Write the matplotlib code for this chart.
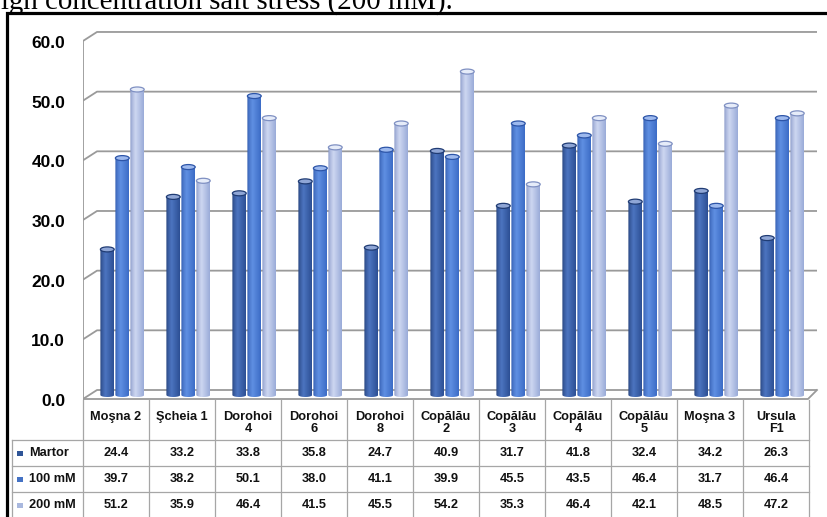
import numpy as np
import matplotlib
matplotlib.use("Agg")
import matplotlib.pyplot as plt
from matplotlib.patches import Ellipse, PathPatch
from matplotlib.path import Path
from matplotlib.colors import to_rgb

# ---------------- data ----------------
categories = ["Moşna 2", "Şcheia 1", "Dorohoi\n4", "Dorohoi\n6", "Dorohoi\n8",
              "Copălău\n2", "Copălău\n3", "Copălău\n4", "Copălău\n5", "Moşna 3", "Ursula\nF1"]
series_names = ["Martor", "100 mM", "200 mM"]
martor = [24.4, 33.2, 33.8, 35.8, 24.7, 40.9, 31.7, 41.8, 32.4, 34.2, 26.3]
mm100 = [39.7, 38.2, 50.1, 38.0, 41.1, 39.9, 45.5, 43.5, 46.4, 31.7, 46.4]
mm200 = [51.2, 35.9, 46.4, 41.5, 45.5, 54.2, 35.3, 46.4, 42.1, 48.5, 47.2]
y_ticks = [0, 10, 20, 30, 40, 50, 60]
caption = "igh concentration salt stress (200 mM)."

series = [martor, mm100, mm200]
# gradient colours (left edge, highlight, right edge) and legend colour
grads = [("#203c74", "#4c74c0", "#2c4f94"),
         ("#2d55a8", "#5f8fe2", "#3c6cc6"),
         ("#7f90c2", "#cdd7f1", "#9aabd8")]
legend_cols = ["#2f5597", "#4472c4", "#a9b8de"]
cap_cols = ["#8fa6d6", "#9db9ee", "#e6ecf9"]

W, H = 827, 517
fig = plt.figure(figsize=(W / 100, H / 100), dpi=100)
fig.patch.set_facecolor("white")

# geometry in pixels
col_w = 66.0
x_left = 83.0
ppu = 5.967           # pixels per value unit
base_pix = 395.0      # pixel row of value 0 for bars
ax_top, ax_bot, ax_right = 30.0, 400.0, 822.0

ax = fig.add_axes([x_left / W, 1 - ax_bot / H, (ax_right - x_left) / W, (ax_bot - ax_top) / H])
ax.set_xlim(0, (ax_right - x_left) / col_w)
ax.set_ylim(-(ax_bot - base_pix) / ppu, (base_pix - ax_top) / ppu)
ax.axis("off")

back_off = 5.0 / ppu
front_off = -4.0 / ppu
depth_x = 14.0 / col_w
x_back_end = (817 - x_left) / col_w
x_front_end = (808 - x_left) / col_w
grid_c = "#9a9a9a"

# gridlines (3D back wall)
for g in y_ticks:
    ax.plot([0, depth_x, x_back_end], [g + front_off, g + back_off, g + back_off],
            color=grid_c, lw=1.3, zorder=1, solid_capstyle="butt")
# floor
ax.plot([x_back_end, x_front_end, 0], [back_off, front_off, front_off], color=grid_c, lw=1.3, zorder=1)
ax.plot([0, 0], [ax.get_ylim()[0], y_ticks[-1] + front_off], color=grid_c, lw=1.3, zorder=1)

# bars as cylinders
bw = 13.8 / col_w
offs = [24.3 / col_w, 39.3 / col_w, 54.3 / col_w]
cap_h = 5.0 / ppu
bot_h = 4.0 / ppu
t = np.linspace(0, 1, 64)

def make_grad(c_l, c_m, c_r):
    l, m, r = np.array(to_rgb(c_l)), np.array(to_rgb(c_m)), np.array(to_rgb(c_r))
    out = np.zeros((1, len(t), 3))
    for i, tt in enumerate(t):
        if tt < 0.4:
            f = tt / 0.4
            out[0, i] = l + (m - l) * (f ** 0.6)
        else:
            f = (tt - 0.4) / 0.6
            out[0, i] = m + (r - m) * f
    return out

imgs = [make_grad(*g) for g in grads]

for si, vals in enumerate(series):
    for ci, v in enumerate(vals):
        xc = ci + offs[si]
        x0, x1 = xc - bw / 2, xc + bw / 2
        th = np.linspace(np.pi, 2 * np.pi, 30)
        ex = xc + (bw / 2) * np.cos(th)
        ey = 0 + (bot_h / 2) * np.sin(th)
        verts = [(x0, v)] + list(zip(ex, ey)) + [(x1, v), (x0, v)]
        codes = [Path.MOVETO] + [Path.LINETO] * (len(verts) - 2) + [Path.CLOSEPOLY]
        clip = PathPatch(Path(verts, codes), transform=ax.transData, facecolor="none", edgecolor="none")
        ax.add_patch(clip)
        im = ax.imshow(imgs[si], extent=(x0, x1, -bot_h, v), aspect="auto",
                       interpolation="bilinear", zorder=3 + ci * 0.01 + si * 0.001)
        im.set_clip_path(clip)
        cap = Ellipse((xc, v), bw, cap_h, facecolor=cap_cols[si], edgecolor=grads[si][0],
                      lw=0.9, zorder=3.5 + ci * 0.01 + si * 0.001)
        ax.add_patch(cap)

# ---------------- overlay (pixel coordinates) ----------------
ov = fig.add_axes([0, 0, 1, 1], facecolor="none")
ov.set_xlim(0, W)
ov.set_ylim(H, 0)
ov.axis("off")

# caption (cropped) and frame
ov.text(1, 9, caption, family="Liberation Serif", fontsize=20.8, va="baseline", ha="left", color="black")
ov.plot([6.5, 6.5, W + 5], [H + 5, 12.5, 12.5], color="black", lw=2.3, solid_joinstyle="miter")

# y tick labels
for g in y_ticks:
    ov.text(65, base_pix - ppu * g + 6.5, f"{g:.1f}", ha="right", va="center",
            family="Liberation Sans", weight="bold", fontsize=12.5, color="black")

# data table
tc = "#a6a6a6"
n = len(categories)
x_end = x_left + col_w * n
row_y = [440, 466, 492]
row_c = [453, 479, 505]
for i in range(n + 1):
    ov.plot([x_left + col_w * i] * 2, [400, H + 2], color=tc, lw=0.9)
ov.plot([12, 12], [440, H + 2], color=tc, lw=0.9)
for ry in row_y:
    ov.plot([12, x_end], [ry, ry], color=tc, lw=0.9)

tkw = dict(family="Liberation Sans", weight="bold", fontsize=9.2, color="#111111")
for i, lab in enumerate(categories):
    ov.text(x_left + col_w * (i + 0.5), 411, lab, ha="center", va="top", linespacing=1.0, **tkw)
for si, vals in enumerate(series):
    ov.add_patch(plt.Rectangle((17, row_c[si] - 2.5), 6, 5, facecolor=legend_cols[si], edgecolor="none"))
    ov.text(29, row_c[si], series_names[si], ha="left", va="center", **tkw)
    for ci, v in enumerate(vals):
        ov.text(x_left + col_w * (ci + 0.5), row_c[si], f"{v:.1f}", ha="center", va="center", **tkw)

fig.savefig("out.png", dpi=100)
